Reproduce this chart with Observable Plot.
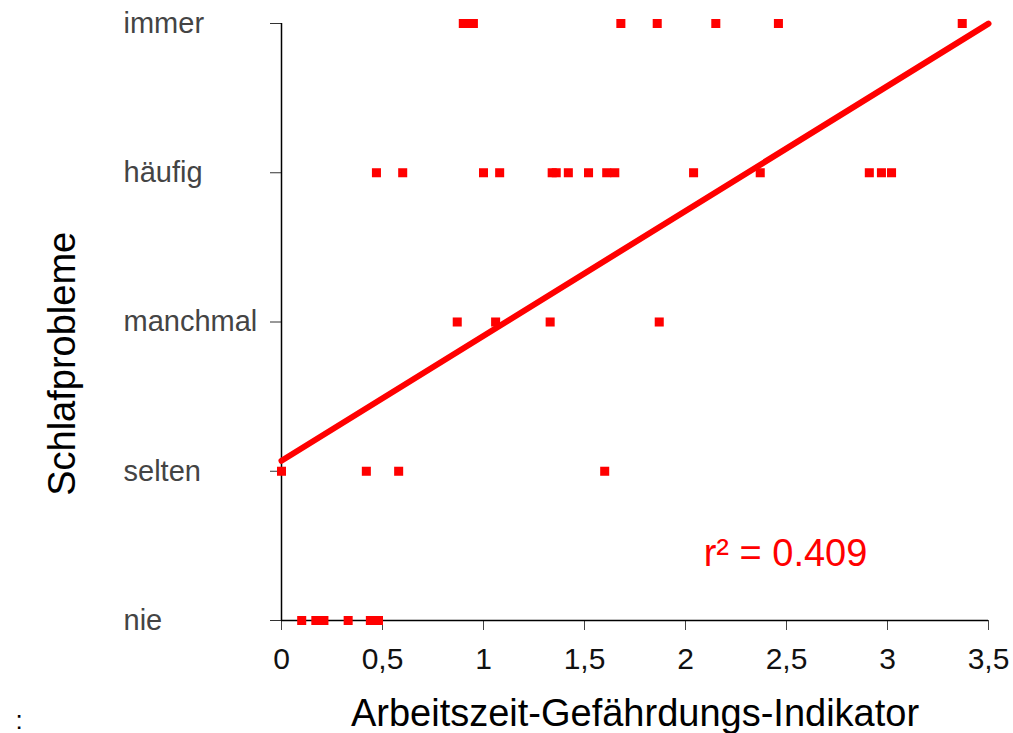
<!DOCTYPE html>
<html><head><meta charset="utf-8">
<script src="https://cdn.jsdelivr.net/npm/d3@7"></script>
<script src="https://cdn.jsdelivr.net/npm/@observablehq/plot@0.6"></script>
<style>body{margin:0;background:#fff;}</style>
</head><body><div id="chart"></div>
<script>
// Answer categories (y), coded 0..4
const levels = ["nie", "selten", "manchmal", "häufig", "immer"];
// x values of the points in each category
const nieX = [0.10, 0.17, 0.21, 0.33, 0.44, 0.48];
const seltenX = [0.00, 0.42, 0.58, 1.60];
const manchmalX = [0.87, 1.06, 1.33, 1.87];
const haeufigX = [0.47, 0.60, 1.00, 1.08, 1.34, 1.36, 1.42, 1.52, 1.61, 1.65, 2.04, 2.37, 2.91, 2.97, 3.02];
const immerX = [0.90, 0.92, 0.95, 1.68, 1.86, 2.15, 2.46, 3.37];
// x ticks
const xTicks = [0, 0.5, 1, 1.5, 2, 2.5, 3, 3.5];
const xTickLabels = ["0", "0,5", "1", "1,5", "2", "2,5", "3", "3,5"];
// regression fit
const fitIntercept = 1.07;
const fitSlope = 0.837;
const fitRange = [0, 3.5];
const rSquaredLabel = "r² = 0.409";
const rLabelPos = {x: 2.09, y: 0.45};
const yTitlePos = {x: -1.084, y: 1.72};

const groups = [nieX, seltenX, manchmalX, haeufigX, immerX];
const points = groups.flatMap((xs, i) => xs.map(x => ({x, y: i})));
const fitLine = fitRange.map(x => ({x, y: fitIntercept + fitSlope * x}));
const levelRows = levels.map((name, i) => ({name, y: i}));

const chart = Plot.plot({
  width: 1013, height: 733,
  marginLeft: 281, marginRight: 25, marginTop: 23, marginBottom: 113,
  x: {domain: [0, 3.5]},
  y: {domain: [0, 4]},
  style: {fontFamily: "'Liberation Sans', Arial, sans-serif", background: "#fff", color: "#000", overflow: "visible"},
  marks: [
    Plot.axisY({ticks: [0, 1, 2, 3, 4], tickFormat: () => "", tickSize: 11, stroke: "#333", label: null}),
    Plot.text(levelRows, {y: "y", text: "name", frameAnchor: "left", dx: -158, textAnchor: "start",
      fontSize: 29, fill: "#444"}),
    Plot.axisX({ticks: xTicks, tickFormat: d => xTickLabels[xTicks.indexOf(d)], tickSize: 10, tickPadding: 17,
      fontSize: 30, fill: "#111", stroke: "#444", label: null}),
    Plot.ruleX([0], {y1: 0, y2: 4, stroke: "#000", strokeWidth: 1.5}),
    Plot.ruleY([0], {x1: 0, x2: 3.5, stroke: "#000", strokeWidth: 1.5}),
    Plot.dot(points, {x: "x", y: "y", symbol: "square", r: 5.1, fill: "#ff0000", stroke: null}),
    Plot.line(fitLine, {x: "x", y: "y", stroke: "#ff0000", strokeWidth: 6, strokeLinecap: "round"}),
    Plot.text([rSquaredLabel], {x: rLabelPos.x, y: rLabelPos.y, text: d => d, textAnchor: "start",
      fill: "#ff0000", fontSize: 38}),
    Plot.text(["Arbeitszeit-Gefährdungs-Indikator"], {frameAnchor: "bottom", dy: 105, fontSize: 38, fill: "#000"}),
    Plot.text(["Schlafprobleme"], {x: yTitlePos.x, y: yTitlePos.y, rotate: -90, fontSize: 38, fill: "#000", clip: false}),
    Plot.text([":"], {frameAnchor: "bottom-left", dx: -266, dy: 108, fontSize: 26, fill: "#000"})
  ]
});
document.getElementById("chart").appendChild(chart);
</script>
</body></html>
